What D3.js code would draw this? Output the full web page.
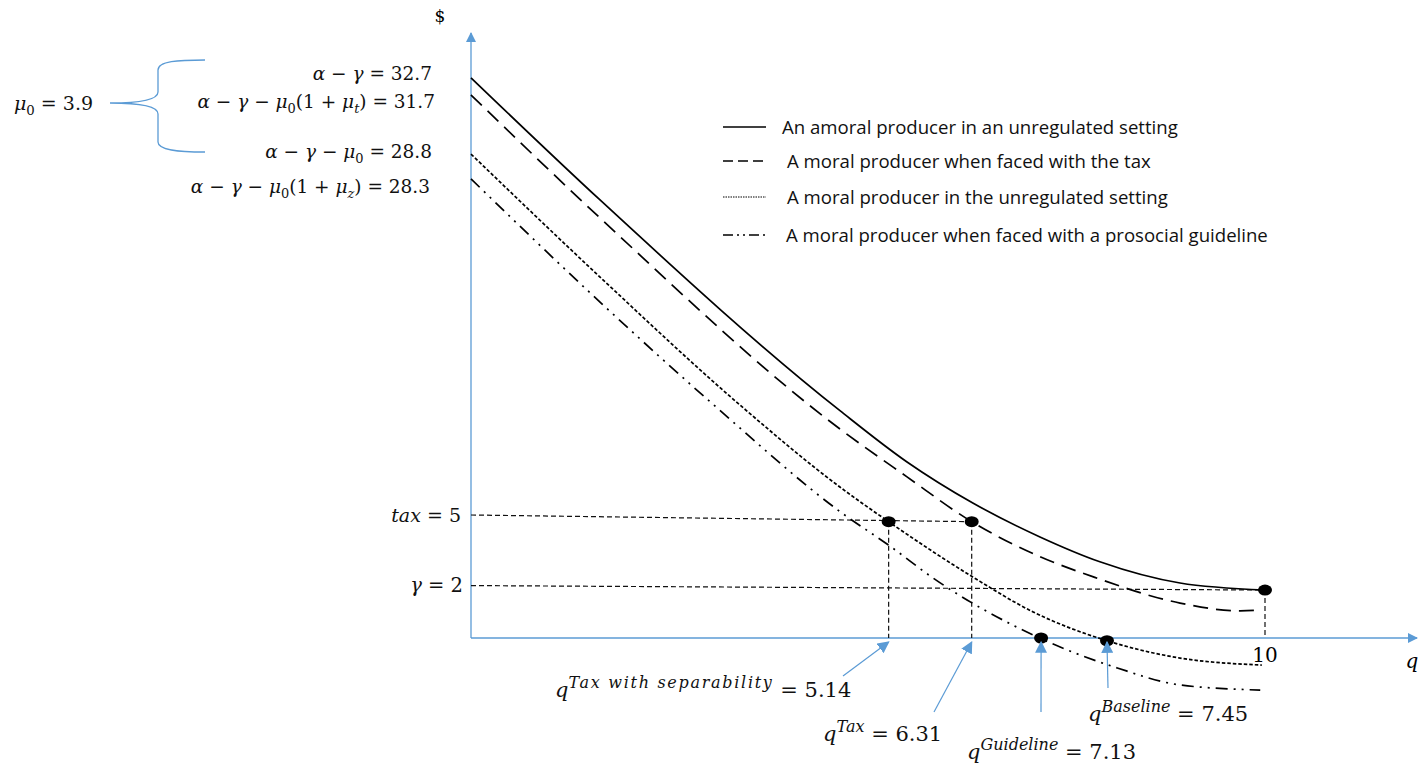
<!DOCTYPE html>
<html>
<head>
<meta charset="utf-8">
<script src="https://cdn.jsdelivr.net/npm/d3@7"></script>
<style>
  html, body { margin: 0; padding: 0; background: #fff; }
  svg { display: block; }
</style>
</head>
<body>
<div id="chart"></div>
<script>
// quantity q on x, price $ on y (diagram units)
const amoralQ = [0, 1.625, 4.647, 5.487, 6.32, 7.166, 7.92, 8.93, 10];
const amoralP = [32.7, 25.57, 13.27, 10.29, 7.88, 5.9, 4.45, 3.21, 2.8];
const taxQ = [0, 1.625, 4.647, 5.487, 6.306, 7.166, 7.83, 8.93, 9.69, 9.94];
const taxP = [31.7, 24.52, 12.2, 9.42, 6.79, 4.75, 3.58, 2.04, 1.58, 1.63];
const moralQ = [0, 1.625, 3.43, 4.65, 5.26, 6.32, 7.08, 8.01, 8.43, 8.93, 9.96];
const moralP = [28.25, 21.07, 13.43, 8.8, 6.79, 3.56, 1.52, -0.16, -0.7, -1.17, -1.58];
const guideQ = [0, 1.625, 3.1, 4.65, 5.29, 5.82, 7.18, 8.14, 8.93, 9.94];
const guideP = [26.8, 19.61, 13.43, 7.37, 5.32, 3.5, -0.04, -1.75, -2.74, -3.04];

const seriesNames = [
  "An amoral producer in an unregulated setting",
  "A moral producer when faced with the tax",
  "A moral producer in the unregulated setting",
  "A moral producer when faced with a prosocial guideline"
];

// equilibrium dots
const dotQ = [5.26, 6.306, 7.18, 8.01, 10];
const dotP = [6.79, 6.79, 0, -0.16, 2.8];

// horizontal guide lines (tax, gamma) and vertical drops
const taxLineQ = [0, 6.306];
const taxLineP = [7.18, 6.79];
const gammaLineQ = [0, 10];
const gammaLineP = [3.06, 2.8];
const dropQ = [5.26, 6.306, 10];
const dropP = [6.79, 6.79, 2.8];

const xTicks = [10];

const W = 1418, H = 767;
const AXIS = "#5b9bd5";
const MATH = "'DejaVu Serif', serif";
const SANS = "'Open Sans', 'Liberation Sans', sans-serif";

const x = d3.scaleLinear().domain([0, 10]).range([471, 1265]);
const y = d3.scaleLinear().domain([0, 35.2]).range([638, 35]);

const svg = d3.select("#chart").append("svg")
  .attr("width", W).attr("height", H)
  .style("background", "#fff");

const defs = svg.append("defs");
defs.append("marker")
  .attr("id", "arr")
  .attr("viewBox", "0 0 10 10")
  .attr("refX", 9).attr("refY", 5)
  .attr("markerWidth", 10).attr("markerHeight", 10)
  .attr("markerUnits", "userSpaceOnUse")
  .attr("orient", "auto")
  .append("path").attr("d", "M0,0 L10,5 L0,10 Z").attr("fill", AXIS);
defs.append("marker")
  .attr("id", "arrS")
  .attr("viewBox", "0 0 10 10")
  .attr("refX", 9).attr("refY", 5)
  .attr("markerWidth", 12).attr("markerHeight", 12)
  .attr("markerUnits", "userSpaceOnUse")
  .attr("orient", "auto")
  .append("path").attr("d", "M0,0 L10,5 L0,10 Z").attr("fill", AXIS);

// axes
svg.append("line")
  .attr("x1", x(0)).attr("y1", y(0)).attr("x2", W - 1).attr("y2", y(0))
  .attr("stroke", AXIS).attr("stroke-width", 1.3).attr("marker-end", "url(#arr)");
svg.append("line")
  .attr("x1", x(0)).attr("y1", y(0)).attr("x2", x(0)).attr("y2", 33)
  .attr("stroke", AXIS).attr("stroke-width", 1.3).attr("marker-end", "url(#arr)");

svg.append("text").attr("x", 440).attr("y", 22).attr("text-anchor", "middle")
  .style("font-family", MATH).style("font-size", "17px").text("$");
svg.append("text").attr("x", 1412).attr("y", 668).attr("text-anchor", "middle")
  .style("font-family", MATH).style("font-size", "20px").style("font-style", "italic").text("q");

svg.selectAll(".xtick").data(xTicks).enter().append("text")
  .attr("class", "xtick")
  .attr("x", d => x(d)).attr("y", 662).attr("text-anchor", "middle")
  .style("font-family", MATH).style("font-size", "20px").text(d => d);

// guide lines
const guide = svg.append("g")
  .attr("fill", "none").attr("stroke", "#111")
  .attr("stroke-width", 1.2).attr("stroke-dasharray", "5,3");
guide.append("line")
  .attr("x1", x(taxLineQ[0])).attr("y1", y(taxLineP[0]))
  .attr("x2", x(taxLineQ[1])).attr("y2", y(taxLineP[1]));
guide.append("line")
  .attr("x1", x(gammaLineQ[0])).attr("y1", y(gammaLineP[0]))
  .attr("x2", x(gammaLineQ[1])).attr("y2", y(gammaLineP[1]));
guide.selectAll(".drop").data(dropQ).enter().append("line")
  .attr("class", "drop")
  .attr("x1", d => x(d)).attr("x2", d => x(d))
  .attr("y1", (d, i) => y(dropP[i])).attr("y2", y(0));

// curves
const line = d3.line()
  .x(d => x(d[0])).y(d => y(d[1]))
  .curve(d3.curveMonotoneX);
const curves = [
  { q: amoralQ, p: amoralP, dash: null },
  { q: taxQ, p: taxP, dash: "15,8" },
  { q: moralQ, p: moralP, dash: "3.5,2" },
  { q: guideQ, p: guideP, dash: "12,6,2,6,2,6" }
];
svg.append("g").selectAll("path").data(curves).enter().append("path")
  .attr("d", c => line(c.q.map((q, i) => [q, c.p[i]])))
  .attr("fill", "none").attr("stroke", "#000").attr("stroke-width", 1.7)
  .attr("stroke-dasharray", c => c.dash);

// dots
svg.append("g").selectAll("ellipse").data(dotQ).enter().append("ellipse")
  .attr("cx", d => x(d)).attr("cy", (d, i) => y(dotP[i]))
  .attr("rx", 7).attr("ry", 5.5).attr("fill", "#000");

// legend
const legendDash = [null, "10,5", "1.5,1", "10,4,2,4,2,4"];
const legendY = [127, 161, 197, 235];
const legendTx = [782, 787, 787, 786];
const leg = svg.append("g");
seriesNames.forEach((name, i) => {
  leg.append("line")
    .attr("x1", 723).attr("x2", 766).attr("y1", legendY[i]).attr("y2", legendY[i])
    .attr("stroke", "#000").attr("stroke-width", i === 2 ? 1 : 1.5)
    .attr("stroke-dasharray", legendDash[i]);
  leg.append("text")
    .attr("x", legendTx[i]).attr("y", legendY[i] + 7)
    .style("font-family", SANS).style("font-size", "18.6px").style("fill", "#111")
    .text(name);
});

// math labels
function mathText(x0, y0, segs, size, anchor, supSize) {
  const t = svg.append("text")
    .attr("x", x0).attr("y", y0)
    .attr("text-anchor", anchor || "start")
    .style("font-family", MATH).style("font-size", size + "px")
    .style("white-space", "pre").style("fill", "#111");
  let cur = 0;
  segs.forEach(([s, k, ls]) => {
    const off = k.startsWith("sub") ? size * 0.28 : k.startsWith("sup") ? -size * 0.45 : 0;
    const ts = t.append("tspan").attr("dy", off - cur).text(s);
    cur = off;
    if (k.endsWith("i")) ts.style("font-style", "italic");
    if (k.startsWith("sub")) ts.style("font-size", (size * 0.7) + "px");
    if (k.startsWith("sup")) ts.style("font-size", (supSize || size * 0.72) + "px");
    if (ls) ts.style("letter-spacing", ls + "px");
  });
  return t;
}

const EQ = " = ", MI = " − ";
mathText(432, 80, [["α", "i"], [MI, "r"], ["γ", "i"], [EQ + "32.7", "r"]], 18.5, "end");
mathText(435, 108, [["α", "i"], [MI, "r"], ["γ", "i"], [MI, "r"], ["μ", "i"], ["0", "sub"],
  ["(1 + ", "r"], ["μ", "i"], ["t", "subi"], [")" + EQ + "31.7", "r"]], 18.5, "end");
mathText(432, 158, [["α", "i"], [MI, "r"], ["γ", "i"], [MI, "r"], ["μ", "i"], ["0", "sub"],
  [EQ + "28.8", "r"]], 18.5, "end");
mathText(430, 193, [["α", "i"], [MI, "r"], ["γ", "i"], [MI, "r"], ["μ", "i"], ["0", "sub"],
  ["(1 + ", "r"], ["μ", "i"], ["z", "subi"], [")" + EQ + "28.3", "r"]], 18.5, "end");
mathText(14, 110, [["μ", "i"], ["0", "sub"], [EQ + "3.9", "r"]], 19);

mathText(461, 522, [["tax", "i"], [EQ + "5", "r"]], 19, "end");
mathText(463, 592, [["γ", "i"], [EQ + "2", "r"]], 19.5, "end");

// brace
svg.append("path")
  .attr("d", "M205,60 C178,60 158,61 158,70 L158,92 C158,100 140,103 110,103 " +
    "C140,103 158,106 158,114 L158,142 C158,150 178,152 205,152")
  .attr("fill", "none").attr("stroke", AXIS).attr("stroke-width", 1.3);

// q annotations
const annot = [
  { segs: [["q", "i"], ["Tax with separability", "supi", 1.7], [EQ + "5.14", "r"]], lx: 555, ly: 697, from: [843, 676], q: dotQ[0] },
  { segs: [["q", "i"], ["Tax", "supi"], [EQ + "6.31", "r"]], lx: 823, ly: 741, from: [934, 712], q: dotQ[1] },
  { segs: [["q", "i"], ["Guideline", "supi"], [EQ + "7.13", "r"]], lx: 967, ly: 759, from: [1041, 712], q: dotQ[2] },
  { segs: [["q", "i"], ["Baseline", "supi"], [EQ + "7.45", "r"]], lx: 1088, ly: 721, from: [1108, 688], q: dotQ[3] }
];
annot.forEach(a => {
  mathText(a.lx, a.ly, a.segs, 21, "start", 16);
  svg.append("line")
    .attr("x1", a.from[0]).attr("y1", a.from[1])
    .attr("x2", x(a.q)).attr("y2", y(0) + 4)
    .attr("stroke", AXIS).attr("stroke-width", 1.2)
    .attr("marker-end", "url(#arrS)");
});
</script>
</body>
</html>
